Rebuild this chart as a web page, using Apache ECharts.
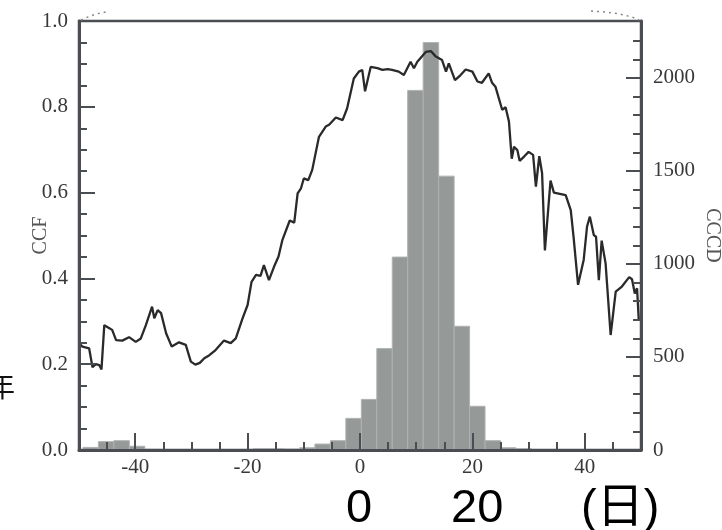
<!DOCTYPE html>
<html>
<head>
<meta charset="utf-8">
<script src="https://cdn.jsdelivr.net/npm/echarts@6/dist/echarts.min.js"></script>
<style>
  html, body { margin: 0; padding: 0; background: #ffffff; }
  #chart { width: 722px; height: 530px; }
</style>
</head>
<body>
<div id="chart"></div>
<script>
// Lag axis (days) and the cross-correlation function
const ccfLag = [
  -49.96, -49.4, -48.2, -47.6, -47.0, -46.4, -46.0, -45.5, -44.6, -44.1,
  -43.4, -42.3, -41.1, -39.9, -39.0, -38.1, -37.0, -36.6, -36.0, -35.4,
  -34.5, -33.5, -32.2, -31.0, -30.1, -29.3, -28.5, -27.7, -26.8, -25.7,
  -24.2, -23.0, -22.1, -20.9, -20.0, -19.3, -18.5, -17.7, -17.1, -16.2,
  -15.3, -14.5, -13.8, -12.5, -11.7, -11.1, -10.5, -10.0, -9.2, -8.5,
  -7.3, -6.1, -5.5, -4.3, -3.1, -2.3, -1.1, -0.2, 0.4, 0.9,
  1.9, 3.1, 4.0, 4.9, 5.7, 6.9, 7.8, 9.0, 9.6, 10.2,
  11.7, 12.6, 13.5, 14.6, 15.3, 15.8, 16.9, 17.9, 18.8, 20.0,
  20.9, 21.7, 22.9, 23.5, 24.1, 25.3, 25.9, 26.5, 27.0, 27.4,
  28.0, 28.4, 29.2, 30.0, 30.8, 31.3, 31.9, 32.4, 32.9, 33.9,
  34.5, 36.6, 37.5, 38.0, 38.8, 39.8, 40.4, 40.9, 41.6, 42.0,
  42.5, 43.0, 43.7, 44.6, 45.5, 46.6, 47.9, 48.4, 48.9, 49.3,
  49.6
];
const ccfValue = [
  0.249, 0.241, 0.237, 0.193, 0.200, 0.198, 0.188, 0.291, 0.284, 0.280,
  0.256, 0.255, 0.263, 0.252, 0.260, 0.291, 0.334, 0.307, 0.326, 0.319,
  0.272, 0.241, 0.251, 0.245, 0.206, 0.199, 0.203, 0.214, 0.221, 0.233,
  0.255, 0.249, 0.260, 0.307, 0.338, 0.392, 0.408, 0.406, 0.431, 0.396,
  0.427, 0.451, 0.490, 0.535, 0.530, 0.598, 0.610, 0.633, 0.629, 0.653,
  0.730, 0.754, 0.758, 0.775, 0.769, 0.796, 0.866, 0.882, 0.886, 0.836,
  0.893, 0.890, 0.886, 0.888, 0.886, 0.882, 0.874, 0.905, 0.890, 0.905,
  0.928, 0.930, 0.917, 0.909, 0.882, 0.901, 0.862, 0.874, 0.887, 0.882,
  0.859, 0.856, 0.878, 0.856, 0.847, 0.793, 0.799, 0.766, 0.679, 0.707,
  0.699, 0.674, 0.684, 0.695, 0.688, 0.614, 0.685, 0.645, 0.465, 0.628,
  0.600, 0.594, 0.559, 0.497, 0.385, 0.443, 0.521, 0.544, 0.501, 0.497,
  0.396, 0.488, 0.435, 0.268, 0.369, 0.381, 0.403, 0.398, 0.365, 0.377,
  0.303
];

// Histogram of CCCD: bin edges (days) and counts per bin
const binEdges = [
  -49.30, -46.55, -43.80, -41.04, -38.29, -35.54, -32.79, -30.04, -27.28, -24.53,
  -21.78, -19.03, -16.28, -13.52, -10.77, -8.02, -5.27, -2.52, 0.24, 2.99,
  5.74, 8.49, 11.24, 14.00, 16.75, 19.50, 22.25, 25.00, 27.76, 30.51,
  33.26, 36.01, 38.76, 41.52, 44.27, 47.02, 49.77
];
const cccdCount = [
  14, 45, 50, 20, 4, 1, 1, 1, 1, 1,
  1, 8, 8, 5, 12, 32, 50, 170, 272, 545,
  1037, 1933, 2190, 1472, 665, 235, 50, 12, 8, 0,
  0, 0, 0, 0, 0, 0
];

// Axis ranges and tick labels
const lagRange = [-50, 50];
const lagLabels = [-40, -20, 0, 20, 40];
const lagMinorTicks = [-45, -35, -30, -25, -15, -10, -5, 5, 10, 15, 25, 30, 35, 45];
const ccfRange = [0, 1];
const cccdRange = [0, 2306];
const cccdLabels = [0, 500, 1000, 1500, 2000];
const cccdMinorTicks = [100, 200, 300, 400, 600, 700, 800, 900, 1100, 1200, 1300, 1400,
  1600, 1700, 1800, 1900, 2100, 2200];

const AXIS_COLOR = '#4a4d51';
const LABEL_FONT = { fontFamily: 'Liberation Serif', fontSize: 21, color: '#383838' };
const NAME_FONT = { fontFamily: 'Liberation Serif', fontSize: 20, color: '#555' };
const CAPTION_FONT = '47px "Liberation Sans", "Noto Sans CJK JP"';

const histData = cccdCount.map((c, i) => [binEdges[i], binEdges[i + 1], c]);
const ccfData = ccfLag.map((x, i) => [x, ccfValue[i]]);

const chart = echarts.init(document.getElementById('chart'), null, { renderer: 'canvas' });

chart.setOption({
  animation: false,
  backgroundColor: '#ffffff',
  grid: {
    left: 79, right: 81, top: 21, bottom: 80,
    outerBoundsMode: 'none', containLabel: false,
    show: true, borderColor: AXIS_COLOR, borderWidth: 2.5,
    backgroundColor: 'transparent'
  },
  xAxis: [
    {
      type: 'value', min: lagRange[0], max: lagRange[1], position: 'bottom', z: 10,
      axisLine: { show: true, onZero: false, lineStyle: { color: AXIS_COLOR, width: 3 } },
      axisTick: { show: true, inside: true, length: 17, customValues: lagLabels,
        lineStyle: { color: AXIS_COLOR, width: 2 } },
      axisLabel: { customValues: lagLabels, margin: 7, ...LABEL_FONT },
      splitLine: { show: false }
    },
    {
      type: 'value', min: lagRange[0], max: lagRange[1], position: 'bottom', z: 10,
      axisLine: { show: false, onZero: false },
      axisTick: { show: true, inside: true, length: 8, customValues: lagMinorTicks,
        lineStyle: { color: AXIS_COLOR, width: 2 } },
      axisLabel: { show: false },
      splitLine: { show: false }
    }
  ],
  yAxis: [
    {
      type: 'value', min: ccfRange[0], max: ccfRange[1], interval: 0.2, position: 'left', z: 10,
      name: 'CCF', nameLocation: 'middle', nameGap: 28, nameMoveOverlap: false,
      nameTextStyle: NAME_FONT,
      axisLine: { show: true, onZero: false, lineStyle: { color: AXIS_COLOR, width: 3 } },
      axisTick: { show: true, inside: true, length: 16, lineStyle: { color: AXIS_COLOR, width: 2 } },
      minorTick: { show: true, splitNumber: 4, length: 8, lineStyle: { color: AXIS_COLOR, width: 2 } },
      axisLabel: { margin: 11, formatter: v => v.toFixed(1), ...LABEL_FONT },
      splitLine: { show: false }
    },
    {
      type: 'value', min: cccdRange[0], max: cccdRange[1], position: 'right', z: 10,
      name: 'CCCD', nameLocation: 'middle', nameGap: 61, nameRotate: -90, nameMoveOverlap: false,
      nameTextStyle: NAME_FONT,
      axisLine: { show: true, onZero: false, lineStyle: { color: AXIS_COLOR, width: 3 } },
      axisTick: { show: true, inside: true, length: 15, customValues: cccdLabels,
        lineStyle: { color: AXIS_COLOR, width: 2 } },
      axisLabel: { customValues: cccdLabels, margin: 12, formatter: v => String(v), ...LABEL_FONT },
      splitLine: { show: false }
    },
    {
      type: 'value', min: cccdRange[0], max: cccdRange[1], position: 'right', z: 10,
      axisLine: { show: false, onZero: false },
      axisTick: { show: true, inside: true, length: 8, customValues: cccdMinorTicks,
        lineStyle: { color: AXIS_COLOR, width: 2 } },
      axisLabel: { show: false },
      splitLine: { show: false }
    }
  ],
  series: [
    {
      name: 'CCCD', type: 'custom', xAxisIndex: 0, yAxisIndex: 1, z: 2,
      data: histData,
      encode: { x: [0, 1], y: 2 },
      renderItem: function (params, api) {
        const lo = api.coord([api.value(0), 0]);
        const hi = api.coord([api.value(1), api.value(2)]);
        return {
          type: 'rect',
          shape: { x: lo[0], y: hi[1], width: hi[0] - lo[0], height: lo[1] - hi[1] },
          style: { fill: '#959a99', stroke: '#aeb2b1', lineWidth: 1 }
        };
      }
    },
    {
      name: 'CCF', type: 'line', xAxisIndex: 0, yAxisIndex: 0, z: 5,
      data: ccfData, showSymbol: false, symbol: 'none',
      lineStyle: { color: '#2a2a2a', width: 2.3 }
    }
  ],
  graphic: [
    // faint dotted arcs running off the top corners of the frame
    { type: 'polyline', z: 20, shape: { points: [[81, 20], [88, 17], [96, 14], [106, 12]] },
      style: { stroke: '#888', lineWidth: 1.5, lineDash: [2, 4], fill: null } },
    { type: 'polyline', z: 20, shape: { points: [[591, 11], [606, 12], [620, 14], [632, 17], [639, 20]] },
      style: { stroke: '#888', lineWidth: 1.5, lineDash: [2, 4], fill: null } },
    // clipped caption glyph at the left edge
    { type: 'text', z: 20, left: -13, top: 372,
      style: { text: '年', font: '28px "Noto Sans CJK JP"', fill: '#111' } },
    // large caption along the bottom
    { type: 'text', z: 20, x: 346, y: 509,
      style: { text: '0', font: CAPTION_FONT, fill: '#000', verticalAlign: 'middle' } },
    { type: 'text', z: 20, x: 451, y: 509,
      style: { text: '20', font: CAPTION_FONT, fill: '#000', verticalAlign: 'middle' } },
    { type: 'text', z: 20, x: 581, y: 509,
      style: { text: '(日)', font: CAPTION_FONT, fill: '#000', verticalAlign: 'middle' } }
  ]
});
</script>
</body>
</html>
